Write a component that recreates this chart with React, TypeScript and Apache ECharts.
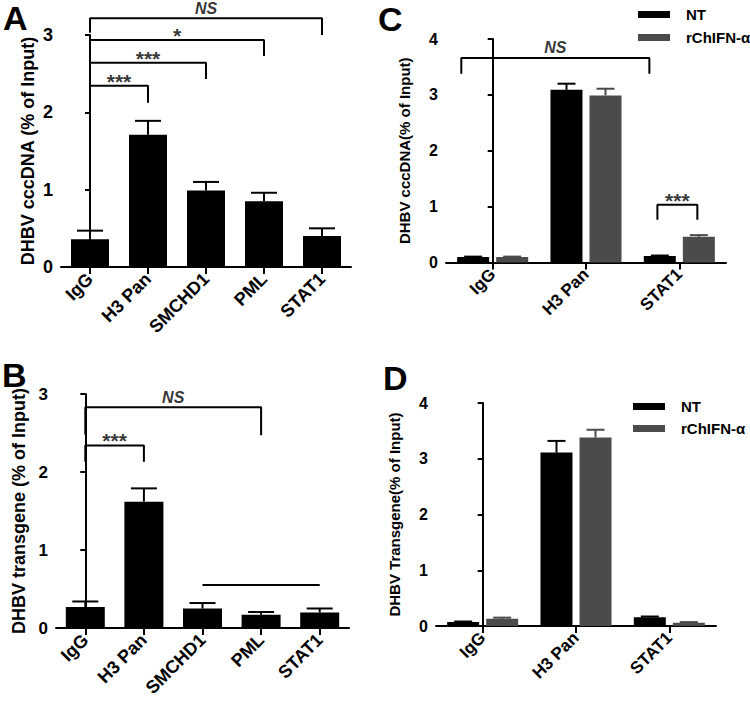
import React, { useEffect, useRef } from "react";
import * as echarts from "echarts";

// ---------- data ----------
const catsAB = ["IgG", "H3 Pan", "SMCHD1", "PML", "STAT1"];
const aMean = [0.36, 1.71, 0.99, 0.85, 0.4];
const aErr = [0.11, 0.18, 0.11, 0.11, 0.1];
const bMean = [0.27, 1.62, 0.25, 0.17, 0.2];
const bErr = [0.07, 0.17, 0.07, 0.035, 0.05];

const catsCD = ["IgG", "H3 Pan", "STAT1"];
const cNT = [0.1, 3.09, 0.115];
const cNTErr = [0.005, 0.11, 0.01];
const cIFN = [0.1, 2.99, 0.46];
const cIFNErr = [0.005, 0.12, 0.03];
const dNT = [0.07, 3.11, 0.155];
const dNTErr = [0.01, 0.21, 0.015];
const dIFN = [0.13, 3.38, 0.06];
const dIFNErr = [0.02, 0.14, 0.01];

const seriesNames = ["NT", "rChIFN-α"];

// brackets: [x1, x2, yLeftEnd, yTop, yRightEnd, label]
const bracketsA: [number, number, number, number, number, string][] = [
  [0, 4, 3.03, 3.216, 3.0, "NS"],
  [0, 3, 2.73, 2.935, 2.73, "*"],
  [0, 2, 2.43, 2.64, 2.43, "***"],
  [0, 1, 2.125, 2.345, 2.125, "***"],
];
const bracketsB: [number, number, number, number, number, string][] = [
  [0, 3, 2.48, 2.83, 2.47, "NS"],
  [0, 1, 2.13, 2.34, 2.13, "***"],
];
const barLineB: [number, number, number] = [2, 4, 0.55];
const bracketsC: [number, number, number, number, number, string][] = [
  [-0.336, 1.679, 3.38, 3.66, 3.38, "NS"],
  [1.765, 2.193, 0.766, 1.034, 0.766, "***"],
];

// ---------- styling ----------
const FONT = "Liberation Sans, Arial, Helvetica, sans-serif";
const BLACK = "#000000";
const GRAY = "#4b4b4b";

function catAxis(gridIndex: number, data: string[], fs: number) {
  return {
    type: "category",
    gridIndex,
    data,
    axisLine: { show: true, lineStyle: { color: BLACK, width: 2 } },
    axisTick: { show: true, alignWithLabel: true, length: 7, lineStyle: { color: BLACK, width: 2 } },
    axisLabel: {
      rotate: 45,
      margin: 9,
      color: BLACK,
      fontFamily: FONT,
      fontWeight: "bold",
      fontSize: fs,
      interval: 0,
    },
    splitLine: { show: false },
  };
}

function hiddenX(gridIndex: number, n: number) {
  return { type: "value", gridIndex, min: -0.5, max: n - 0.5, show: false };
}

function valAxis(gridIndex: number, max: number, name: string, nameGap: number, nameFs: number, labelFs: number) {
  return {
    type: "value",
    gridIndex,
    min: 0,
    max,
    interval: 1,
    name,
    nameLocation: "middle",
    nameGap,
    nameTextStyle: { color: BLACK, fontFamily: FONT, fontWeight: "bold", fontSize: nameFs },
    axisLine: { show: true, lineStyle: { color: BLACK, width: 2 } },
    axisTick: { show: true, length: 5, lineStyle: { color: BLACK, width: 2 } },
    axisLabel: { color: BLACK, fontFamily: FONT, fontWeight: "bold", fontSize: labelFs, margin: 8 },
    splitLine: { show: false },
  };
}

function errSeries(
  axisIdx: number,
  means: number[],
  errs: number[],
  offset: number,
  capHalf: number,
  color: string
) {
  return {
    type: "custom",
    xAxisIndex: axisIdx,
    yAxisIndex: axisIdx,
    z: 5,
    clip: false,
    silent: true,
    encode: { x: 0, y: 1 },
    data: means.map((m, i) => [i, m, errs[i]]),
    renderItem: (params: any, api: any) => {
      const x = api.value(0);
      const v = api.value(1);
      const e = api.value(2);
      const p0 = api.coord([x, v]);
      const p1 = api.coord([x, v + e]);
      const cx = p0[0] + offset;
      const st = { stroke: color, lineWidth: 2 };
      return {
        type: "group",
        children: [
          { type: "line", shape: { x1: cx, y1: p0[1], x2: cx, y2: p1[1] }, style: st },
          { type: "line", shape: { x1: cx - capHalf, y1: p1[1], x2: cx + capHalf, y2: p1[1] }, style: st },
        ],
      };
    },
  };
}

function bracketSeries(xIdx: number, yIdx: number, br: [number, number, number, number, number, string][]) {
  const out: any[] = [];
  br.forEach((b) => {
    out.push({
      type: "line",
      xAxisIndex: xIdx,
      yAxisIndex: yIdx,
      clip: false,
      silent: true,
      symbol: "none",
      lineStyle: { color: BLACK, width: 2 },
      z: 6,
      data: [
        [b[0], b[2]],
        [b[0], b[3]],
        [b[1], b[3]],
        [b[1], b[4]],
      ],
    });
  });
  out.push({
    type: "scatter",
    xAxisIndex: xIdx,
    yAxisIndex: yIdx,
    clip: false,
    silent: true,
    symbolSize: 0,
    itemStyle: { color: BLACK },
    z: 7,
    data: br.map((b) => {
      const isNS = b[5] === "NS";
      return {
        value: [(b[0] + b[1]) / 2, b[3], b[5]],
        label: isNS
          ? { fontSize: 16, fontStyle: "italic", distance: 2, color: BLACK }
          : { fontSize: 21, distance: -6, color: BLACK },
      };
    }),
    label: {
      show: true,
      position: "top",
      color: BLACK,
      fontFamily: FONT,
      fontWeight: "bold",
      formatter: (p: any) => p.value[2],
    },
  });
  return out;
}

function buildOption() {
  const grids = [
    { left: 61, top: 35, width: 290, height: 232 }, // A
    { left: 56, top: 394, width: 293, height: 234 }, // B
    { left: 446, top: 39, width: 280, height: 223.5 }, // C
    { left: 436, top: 403, width: 280, height: 223 }, // D
  ];

  const xAxis: any[] = [
    catAxis(0, catsAB, 18),
    catAxis(1, catsAB, 18),
    catAxis(2, catsCD, 17),
    catAxis(3, catsCD, 17),
    hiddenX(0, catsAB.length),
    hiddenX(1, catsAB.length),
    hiddenX(2, catsCD.length),
    hiddenX(3, catsCD.length),
  ];
  const yAxis: any[] = [
    valAxis(0, 3, "DHBV cccDNA (% of Input)", 24, 18, 18),
    valAxis(1, 3, "DHBV transgene (% of Input)", 28, 18, 17),
    valAxis(2, 4, "DHBV cccDNA(% of Input)", 34, 15, 16),
    valAxis(3, 4, "DHBV Transgene(% of Input)", 34, 15, 16),
  ];

  const series: any[] = [];
  // A
  series.push({ type: "bar", xAxisIndex: 0, yAxisIndex: 0, data: aMean, barWidth: 38, itemStyle: { color: BLACK }, silent: true });
  series.push(errSeries(0, aMean, aErr, 0, 13, BLACK));
  // B
  series.push({ type: "bar", xAxisIndex: 1, yAxisIndex: 1, data: bMean, barWidth: 39, itemStyle: { color: BLACK }, silent: true });
  series.push(errSeries(1, bMean, bErr, 0, 13, BLACK));
  // C
  series.push({ name: seriesNames[0], type: "bar", xAxisIndex: 2, yAxisIndex: 2, data: cNT, barWidth: 32, barGap: "22%", itemStyle: { color: BLACK }, silent: true });
  series.push({ name: seriesNames[1], type: "bar", xAxisIndex: 2, yAxisIndex: 2, data: cIFN, barWidth: 32, barGap: "22%", itemStyle: { color: GRAY }, silent: true });
  series.push(errSeries(2, cNT, cNTErr, -19.5, 9, BLACK));
  series.push(errSeries(2, cIFN, cIFNErr, 19.5, 9, GRAY));
  // D
  series.push({ name: seriesNames[0], type: "bar", xAxisIndex: 3, yAxisIndex: 3, data: dNT, barWidth: 32, barGap: "22%", itemStyle: { color: BLACK }, silent: true });
  series.push({ name: seriesNames[1], type: "bar", xAxisIndex: 3, yAxisIndex: 3, data: dIFN, barWidth: 32, barGap: "22%", itemStyle: { color: GRAY }, silent: true });
  series.push(errSeries(3, dNT, dNTErr, -19.5, 9, BLACK));
  series.push(errSeries(3, dIFN, dIFNErr, 19.5, 9, GRAY));

  // brackets
  series.push(...bracketSeries(4, 0, bracketsA));
  series.push(...bracketSeries(5, 1, bracketsB));
  series.push(...bracketSeries(6, 2, bracketsC));
  series.push({
    type: "line",
    xAxisIndex: 5,
    yAxisIndex: 1,
    clip: false,
    silent: true,
    symbol: "none",
    lineStyle: { color: BLACK, width: 2 },
    data: [
      [barLineB[0], barLineB[2]],
      [barLineB[1], barLineB[2]],
    ],
  });

  const legendBase = {
    orient: "vertical",
    icon: "rect",
    itemWidth: 32,
    itemHeight: 7,
    selectedMode: false,
    data: seriesNames,
    textStyle: { color: BLACK, fontFamily: FONT, fontWeight: "bold", fontSize: 15, padding: [0, 0, 0, 11] },
  };

  const letter = (t: string, x: number, y: number) => ({
    type: "text",
    left: x,
    top: y,
    style: { text: t, fill: BLACK, font: `bold 34px ${FONT}` },
  });

  return {
    animation: false,
    grid: grids,
    xAxis,
    yAxis,
    series,
    legend: [
      { ...legendBase, left: 633, top: 2, itemGap: 8 },
      { ...legendBase, left: 628, top: 394, itemGap: 7 },
    ],
    graphic: [letter("A", 3, 1), letter("B", 2, 358), letter("C", 378, 2), letter("D", 383, 361)],
  };
}

export default function App() {
  const ref = useRef<HTMLDivElement>(null);
  useEffect(() => {
    if (!ref.current) return;
    const chart = echarts.init(ref.current, undefined, { renderer: "svg" });
    chart.setOption(buildOption() as any);
    return () => chart.dispose();
  }, []);
  return (
    <div
      ref={ref}
      style={{ position: "absolute", left: 0, top: 0, width: 750, height: 701, background: "#ffffff" }}
    />
  );
}
